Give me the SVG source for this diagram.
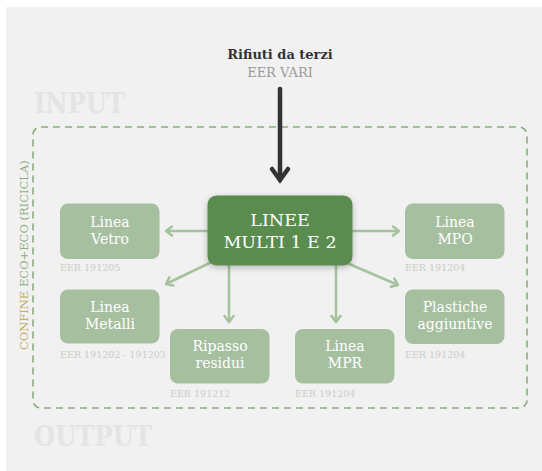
<svg xmlns="http://www.w3.org/2000/svg" width="542" height="471" viewBox="0 0 542 471">
<defs>
<style>
.serif{font-family:"DejaVu Serif","Liberation Serif",serif}
.box{fill:#a6bf9f}
.boxt{font-size:14px;fill:#ffffff;text-anchor:middle}
.eer{font-size:9.5px;fill:#c9cec6}
.conn{stroke:#a6c29d;stroke-width:2.5;fill:none;marker-end:url(#ga)}
.big{font-family:"DejaVu Serif Condensed","DejaVu Serif",serif;font-weight:bold;font-size:27px;fill:#e4e4e4;font-stretch:condensed}
</style>
<marker id="ga" markerUnits="userSpaceOnUse" markerWidth="12" markerHeight="12" refX="8" refY="6" orient="auto">
<path d="M2,1.5 L8,6 L2,10.5" fill="none" stroke="#a6c29d" stroke-width="2.5" stroke-linecap="round" stroke-linejoin="round"/>
</marker>
<filter id="sh" x="-20%" y="-20%" width="140%" height="150%">
<feDropShadow dx="0" dy="2" stdDeviation="3" flood-color="#000" flood-opacity="0.25"/>
</filter>
</defs>
<rect x="6" y="7" width="536" height="464" fill="#f1f1f1"/>
<text class="big" x="34" y="113">INPUT</text>
<text class="big" x="34" y="446">OUTPUT</text>
<rect x="33" y="127" width="494" height="281" rx="8" fill="none" stroke="#8aac7e" stroke-width="1.6" stroke-dasharray="7,5"/>
<text class="serif" transform="translate(28,350) rotate(-90)" font-size="11.5px"><tspan fill="#c2ad5f">CONFINE </tspan><tspan fill="#8fae82">ECO+ECO (RICICLA)</tspan></text>
<g id="source">
<text class="serif" x="280" y="59" font-size="13px" font-weight="bold" fill="#333333" text-anchor="middle">Rifiuti da terzi</text>
<text class="serif" x="280" y="77" font-size="13px" fill="#9a9a9a" text-anchor="middle">EER VARI</text>
</g>
<g id="connectors">
<line x1="280" y1="89" x2="280" y2="180" stroke="#333333" stroke-width="4.5" stroke-linecap="round"/>
<path d="M272,169 L280,180 L288,169" fill="none" stroke="#333333" stroke-width="4.5" stroke-linecap="round" stroke-linejoin="miter"/>
<line class="conn" x1="215" y1="231" x2="166" y2="231"/>
<line class="conn" x1="222" y1="257" x2="166" y2="284"/>
<line class="conn" x1="229" y1="260" x2="229" y2="322"/>
<line class="conn" x1="336" y1="260" x2="336" y2="322"/>
<line class="conn" x1="345" y1="231" x2="399" y2="231"/>
<line class="conn" x1="340" y1="260" x2="398" y2="285"/>
</g>
<g id="central">
<rect x="207.5" y="195.5" width="145" height="70" rx="9" fill="#5a8b4f" filter="url(#sh)"/>
<text class="serif" x="280" y="225.5" font-size="17.5px" fill="#ffffff" text-anchor="middle">LINEE</text>
<text class="serif" x="280" y="248" font-size="17.5px" fill="#ffffff" text-anchor="middle">MULTI 1 E 2</text>
</g>
<g id="vetro">
<rect class="box" x="60" y="203.5" width="99.5" height="55.5" rx="8"/>
<text class="serif boxt" x="110" y="226.5">Linea</text>
<text class="serif boxt" x="110" y="244">Vetro</text>
<text class="serif eer" x="60" y="271">EER 191205</text>
</g>
<g id="metalli">
<rect class="box" x="60" y="289.5" width="99.5" height="54" rx="8"/>
<text class="serif boxt" x="110" y="311.5">Linea</text>
<text class="serif boxt" x="110" y="329">Metalli</text>
<text class="serif eer" x="60" y="358">EER 191202 - 191203</text>
</g>
<g id="ripasso">
<rect class="box" x="170" y="329" width="99.5" height="54.5" rx="8"/>
<text class="serif boxt" x="220" y="350.5">Ripasso</text>
<text class="serif boxt" x="220" y="368">residui</text>
<text class="serif eer" x="170" y="396.5">EER 191212</text>
</g>
<g id="mpr">
<rect class="box" x="295" y="329" width="99.5" height="54.5" rx="8"/>
<text class="serif boxt" x="345" y="350.5">Linea</text>
<text class="serif boxt" x="345" y="368">MPR</text>
<text class="serif eer" x="295" y="396.5">EER 191204</text>
</g>
<g id="mpo">
<rect class="box" x="405" y="203.5" width="99.5" height="55.5" rx="8"/>
<text class="serif boxt" x="455" y="226.5">Linea</text>
<text class="serif boxt" x="455" y="244">MPO</text>
<text class="serif eer" x="405" y="271">EER 191204</text>
</g>
<g id="plastiche">
<rect class="box" x="405" y="289.5" width="99.5" height="54.5" rx="8"/>
<text class="serif boxt" x="455" y="311.5">Plastiche</text>
<text class="serif boxt" x="455" y="329">aggiuntive</text>
<text class="serif eer" x="405" y="358">EER 191204</text>
</g>
</svg>
